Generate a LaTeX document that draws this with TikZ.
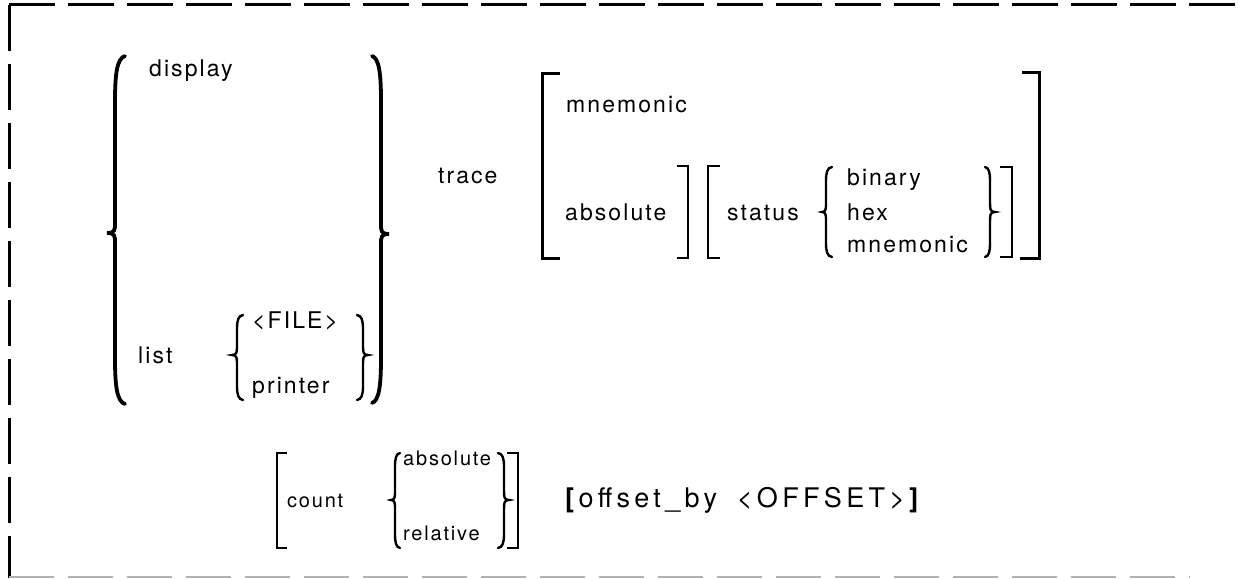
\documentclass[tikz,border=0pt]{standalone}
\usepackage{fontspec}
\setmainfont{TeX Gyre Heros}[LetterSpace=9]
\newfontfamily\offsetfont{TeX Gyre Heros}[LetterSpace=16]
\newcommand\LBr[8]{% tip x, body x, cusp x, top y, cusp y, bottom y, style, end radius
  \draw[#7] ({#1},{#4}) .. controls ({#2+0.2*(#1-#2)},{#4+0.05*#8}) and ({#2},{#4+0.4*#8}) .. ({#2},{#4+#8})
    -- ({#2},{#5-10}) .. controls ({#2},{#5-3}) and ({#2},{#5}) .. ({#3},{#5})
    .. controls ({#2},{#5}) and ({#2},{#5+3}) .. ({#2},{#5+10})
    -- ({#2},{#6-#8}) .. controls ({#2},{#6-0.4*#8}) and ({#2+0.2*(#1-#2)},{#6-0.05*#8}) .. ({#1},{#6});}
\begin{document}
\begin{tikzpicture}[x=1pt,y=-1pt,
  font=\fontsize{23}{27}\selectfont,
  txt/.style={anchor=base west,inner sep=0pt},
  small/.style={txt,font=\fontsize{20}{24}\selectfont},
  offs/.style={txt,font=\offsetfont\fontsize{27}{31}\selectfont},
  frameline/.style={line width=3pt,dash pattern=on 46pt off 13pt},
  bigbrace/.style={line width=3.8pt,line cap=round},
  smbrace/.style={line width=2.4pt,line cap=round},
  bracket/.style={line width=2.4pt}]
\useasboundingbox (0,0) rectangle (1238,578);
% frame
\draw[frameline] (9,5) -- (1238,5);
\draw[frameline] (9,5) -- (9,578);
\draw[line width=2pt,gray!60,dash pattern=on 45pt off 14pt] (9,577) -- (1190,577);
% big braces
\LBr{125}{115}{107}{56}{233}{404}{bigbrace}{45}
\LBr{372}{381}{389}{56}{234}{403}{bigbrace}{45}
% FILE/printer braces
\LBr{243}{237}{232}{315}{355}{400}{smbrace}{14}
\LBr{357}{363}{368}{315}{355}{400}{smbrace}{14}
% status braces
\LBr{832}{826}{822}{167}{212}{257}{smbrace}{14}
\LBr{985}{990}{995}{167}{212}{257}{smbrace}{14}
% count braces
\LBr{400}{395}{391}{453}{500}{548}{smbrace}{14}
\LBr{498}{504}{509}{453}{500}{548}{smbrace}{14}
% brackets
\draw[bracket,line width=3pt] (560,73) -- (542,73) -- (542,258) -- (560,258);
\draw[bracket,line width=3pt] (1022,72) -- (1039,72) -- (1039,258) -- (1020,258);
\draw[bracket] (677,166) -- (688,166) -- (688,258) -- (677,258);
\draw[bracket] (720,166) -- (708,166) -- (708,258) -- (720,258);
\draw[bracket] (1000,167) -- (1012,167) -- (1012,257) -- (1000,257);
\draw[bracket] (287,453) -- (277,453) -- (277,548) -- (287,548);
\draw[bracket] (507,453) -- (518,453) -- (518,548) -- (507,548);
% texts
\node[txt] (display) at (149,76) {display};
\node[txt] (list) at (138,363) {list};
\node[txt] (file) at (252,328) {<FILE>};
\node[txt] (printer) at (252,393) {printer};
\node[txt] (trace) at (438,183) {trace};
\node[txt] (mnem1) at (566,112) {mnemonic};
\node[txt] (abs1) at (565,220) {absolute};
\node[txt] (status) at (727,220) {status};
\node[txt] (binary) at (847,185) {binary};
\node[txt] (hex) at (847,220) {hex};
\node[txt] (mnem2) at (847,252) {mnemonic};
\node[small] (count) at (287,507) {count};
\node[small] (abs2) at (403,465) {absolute};
\node[small] (rel) at (403,540) {relative};
\node[offs] (offset) at (565,507) {\textbf{[}offset\_by\hspace{8pt} <OFFSET>\textbf{]}};
\end{tikzpicture}
\end{document}
